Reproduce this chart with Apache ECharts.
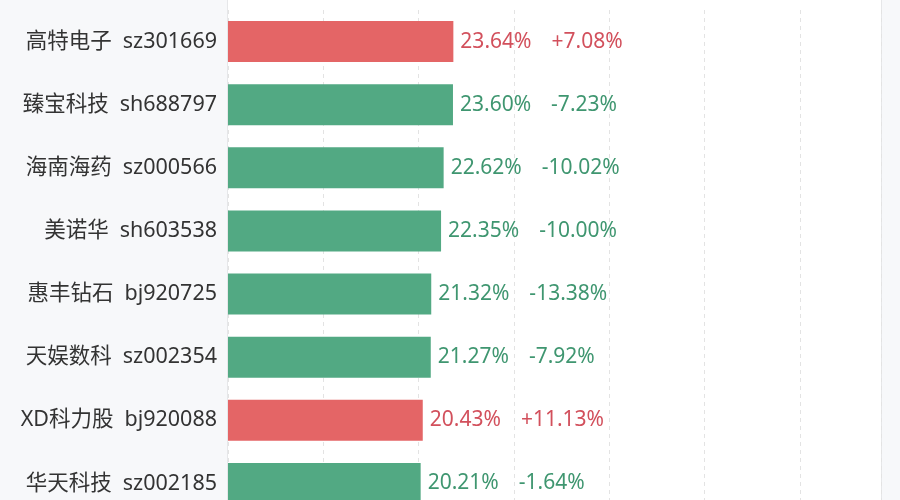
<!DOCTYPE html>
<html>
<head>
<meta charset="utf-8">
<script src="https://cdn.jsdelivr.net/npm/echarts@6/dist/echarts.min.js"></script>
<style>
  html, body { margin: 0; padding: 0; background: #f7f8fa; overflow: hidden; }
  #chart { width: 900px; height: 530px; }
</style>
</head>
<body>
<div id="chart"></div>
<script>
const names = ["高特电子", "臻宝科技", "海南海药", "美诺华", "惠丰钻石", "天娱数科", "XD科力股", "华天科技"];
const codes = ["sz301669", "sh688797", "sz000566", "sh603538", "bj920725", "sz002354", "bj920088", "sz002185"];
const values = [23.64, 23.60, 22.62, 22.35, 21.32, 21.27, 20.43, 20.21];
const changes = [7.08, -7.23, -10.02, -10.00, -13.38, -7.92, 11.13, -1.64];

const RED = "#e46566";
const GREEN = "#52a983";
const RED_TEXT = "#d2505c";
const GREEN_TEXT = "#3f9670";
const FONT = "'Noto Sans', 'Noto Sans CJK SC', sans-serif";

var myChart = echarts.init(document.getElementById("chart"));

var option = {
  backgroundColor: "#f7f8fa",
  animation: false,
  graphic: [
    {
      type: "rect",
      z: -10,
      silent: true,
      shape: { x: 227.5, y: -5, width: 654, height: 540 },
      style: { fill: "#ffffff", stroke: "#e6e7e9", lineWidth: 1 },
    },
  ],
  grid: {
    left: 228,
    right: 19,
    top: 10,
    height: 505,
    containLabel: false,
  },
  xAxis: {
    type: "value",
    min: 0,
    max: 68.5,
    interval: 10,
    axisLabel: { show: false },
    axisLine: { show: false },
    axisTick: { show: false },
    splitLine: {
      show: true,
      lineStyle: { color: "#e3e3e3", type: [4, 4], width: 1 },
    },
  },
  yAxis: {
    type: "category",
    inverse: true,
    data: names,
    axisLine: { show: false },
    axisTick: { show: false },
    axisLabel: {
      margin: 11,
      formatter: function (value, index) {
        return "{n|" + value + "}{c|" + codes[index] + "}";
      },
      rich: {
        n: { fontSize: 21.5, fontFamily: FONT, color: "#333333" },
        c: { fontSize: 21.5, fontFamily: FONT, color: "#333333", padding: [0, 0, 0, 11] },
      },
    },
  },
  series: [
    {
      type: "bar",
      barWidth: 41,
      data: values.map(function (v, i) {
        var up = changes[i] >= 0;
        return {
          value: v,
          itemStyle: { color: up ? RED : GREEN },
          label: {
            rich: {
              v: { fontSize: 21, fontFamily: FONT, color: up ? RED_TEXT : GREEN_TEXT },
              c: { fontSize: 21, fontFamily: FONT, color: up ? RED_TEXT : GREEN_TEXT, padding: [0, 0, 0, 20] },
            },
          },
        };
      }),
      label: {
        show: true,
        position: "right",
        distance: 7,
        formatter: function (p) {
          var c = changes[p.dataIndex];
          var cs = (c >= 0 ? "+" : "") + c.toFixed(2) + "%";
          return "{v|" + p.value.toFixed(2) + "%}{c|" + cs + "}";
        },
      },
    },
  ],
};

myChart.setOption(option);
</script>
</body>
</html>
